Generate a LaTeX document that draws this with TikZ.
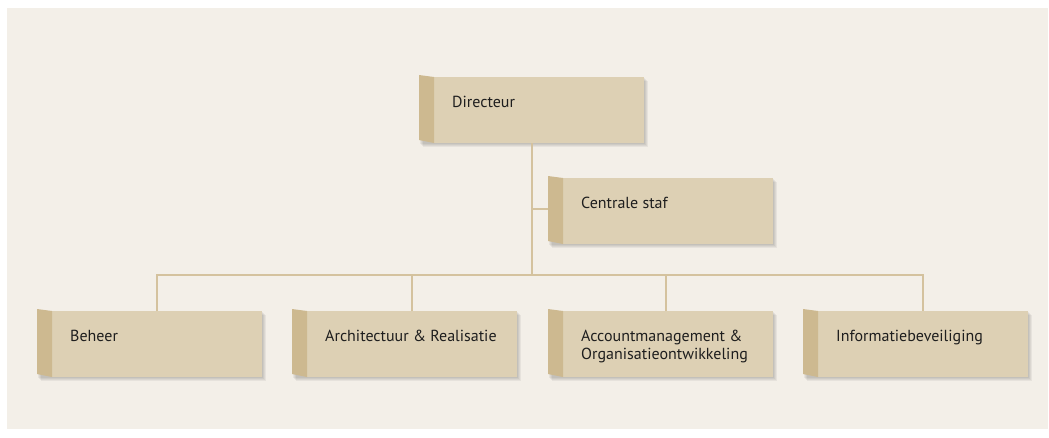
\documentclass[tikz,border=0pt]{standalone}
\usepackage{fontspec}
\setmainfont{PT Sans}
\usetikzlibrary{calc}
\definecolor{bgcol}{HTML}{F3EFE8}
\definecolor{boxcol}{HTML}{DDD0B4}
\definecolor{sidecol}{HTML}{CDB990}
\definecolor{linecol}{HTML}{D4C29E}
\definecolor{txtcol}{HTML}{1E1E1E}
\tikzset{
  mainbox/.style={fill=boxcol, draw=none, minimum width=210pt, minimum height=66pt, inner sep=0pt, outer sep=0pt},
  lbl/.style={anchor=base west, inner sep=0pt, text=txtcol, font=\fontsize{16}{18}\selectfont},
  conn/.style={draw=linecol, line width=2pt}
}
\newcommand\orgbox[4]{%
  \foreach \k in {1,...,4}
    \fill[black,opacity=.05] (#2-15+\k,#3+\k) rectangle (#2+210+\k,#3+66+\k);
  \node[mainbox,anchor=north west] (#1) at (#2,#3) {};
  \fill[sidecol] (#1.north west) -- ++(-15,-2) -- ($(#1.south west)+(-15,-3)$) -- (#1.south west) -- cycle;
  \node[lbl] (#1t) at ($(#1.north west)+(18,30)$) {\begin{tabular}[t]{@{}l@{}}#4\end{tabular}};
}
\begin{document}
\begin{tikzpicture}[x=1pt,y=-1pt]
\useasboundingbox (0,0) rectangle (1049,437);
\fill[white] (0,0) rectangle (1049,437);
\fill[bgcol] (7,8) rectangle (1048,429);
% boxes
\orgbox{dir}{434}{77}{Directeur}
\orgbox{staf}{563}{178}{Centrale staf}
\orgbox{beh}{52}{311}{Beheer}
\orgbox{arch}{307}{311}{Architectuur \& Realisatie}
\orgbox{acc}{563}{311}{Accountmanagement \&\\Organisatieontwikkeling}
\orgbox{inf}{818}{311}{Informatiebeveiliging}
% connectors
\coordinate (trunk) at (532,275);
\coordinate (stafb) at ($(staf.west)+(-15,-2)$);
\draw[conn] (dir.south -| trunk) -- (trunk);
\draw[conn] (stafb -| trunk) -- (stafb);
\draw[conn] (beh.north) |- (trunk) -| (inf.north);
\draw[conn] (arch.north) -- (arch.north |- trunk);
\draw[conn] (acc.north) ++(-2,0) -- ($(acc.north |- trunk)+(-2,0)$);
\end{tikzpicture}
\end{document}
